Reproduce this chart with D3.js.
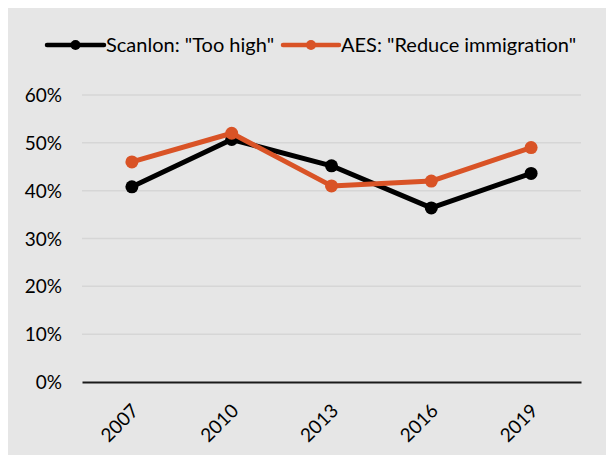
<!DOCTYPE html>
<html><head><meta charset="utf-8">
<script src="https://cdn.jsdelivr.net/npm/d3@7"></script>
<style>html,body{margin:0;padding:0;background:#fff;}svg{display:block;}</style>
</head><body>
<script>
const years = ["2007","2010","2013","2016","2019"];
const scanlon = [40.8, 50.7, 45.2, 36.4, 43.6];
const aes = [46.0, 52.0, 41.0, 42.0, 49.0];
const yTicks = [0,10,20,30,40,50,60];
const seriesNames = ['Scanlon: "Too high"', 'AES: "Reduce immigration"'];
const seriesColors = ["#000000", "#d95326"];

const W = 606, H = 455;
const font = "Lato, 'Noto Sans', sans-serif";
const svg = d3.select("body").append("svg").attr("width", W).attr("height", H);
svg.append("rect").attr("x", 8).attr("y", 8).attr("width", W - 8).attr("height", H - 8).attr("fill", "#e6e6e6");

const x = d3.scaleBand().domain(years).range([82, 581]);
const y = d3.scaleLinear().domain([0, 60]).range([382, 95]);

// gridlines
svg.append("g").selectAll("line").data(yTicks.filter(d => d > 0)).join("line")
  .attr("x1", 82).attr("x2", 581).attr("y1", d => y(d)).attr("y2", d => y(d))
  .attr("stroke", "#d6d6d6").attr("stroke-width", 1.5);

// y axis labels
const yAxis = d3.axisLeft(y).tickValues(yTicks).tickFormat(d => d + "%").tickSize(0).tickPadding(0);
const gy = svg.append("g").attr("transform", "translate(62,0)").call(yAxis);
gy.select(".domain").remove();
gy.selectAll("text").attr("font-family", font).attr("font-size", 19).attr("fill", "#000").attr("dy", "0.35em");

// x axis
const xAxis = d3.axisBottom(x).tickSize(0).tickPadding(0);
const gx = svg.append("g").attr("transform", "translate(0,382)").call(xAxis);
gx.select(".domain").attr("stroke", "#1a1a1a").attr("stroke-width", 2);
gx.selectAll("text").attr("font-family", font).attr("font-size", 19).attr("fill", "#000")
  .attr("text-anchor", "end").attr("dy", null).attr("y", 0)
  .attr("transform", "translate(8,30) rotate(-45)");

const line = d3.line().x((d, i) => x(years[i]) + x.bandwidth() / 2).y(d => y(d));
[scanlon, aes].forEach((vals, k) => {
  svg.append("path").datum(vals).attr("d", line).attr("fill", "none")
    .attr("stroke", seriesColors[k]).attr("stroke-width", 5).attr("stroke-linejoin", "round");
  svg.append("g").selectAll("circle").data(vals).join("circle")
    .attr("cx", (d, i) => x(years[i]) + x.bandwidth() / 2).attr("cy", d => y(d)).attr("r", 6.5)
    .attr("fill", seriesColors[k]);
});

// legend
const legendItems = [{x0: 47, x1: 104, tx: 106}, {x0: 283, x1: 339, tx: 341}];
legendItems.forEach((p, k) => {
  const g = svg.append("g");
  g.append("line").attr("x1", p.x0).attr("x2", p.x1).attr("y1", 45).attr("y2", 45)
    .attr("stroke", seriesColors[k]).attr("stroke-width", 4.5).attr("stroke-linecap", "round");
  g.append("circle").attr("cx", (p.x0 + p.x1) / 2).attr("cy", 45).attr("r", 5).attr("fill", seriesColors[k]);
  g.append("text").attr("x", p.tx).attr("y", 51.5).attr("font-family", font).attr("font-size", 20)
    .attr("fill", "#000").text(seriesNames[k]);
});
</script>
</body></html>
